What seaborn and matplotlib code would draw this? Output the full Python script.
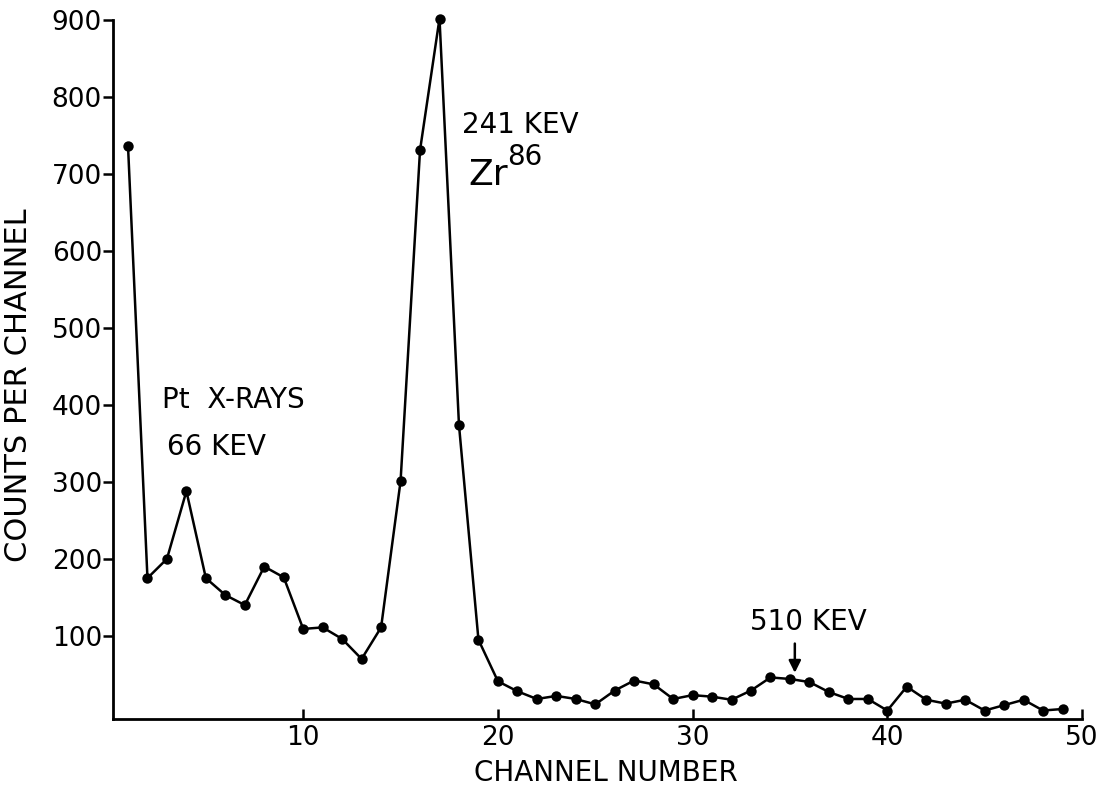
import matplotlib
matplotlib.use("Agg")
import matplotlib.pyplot as plt
import seaborn as sns
import pandas as pd

# counts per channel
channel = list(range(1, 50))
counts = [737, 175, 200, 288, 175, 153, 140, 190, 176, 109,
          111, 96, 70, 111, 301, 731, 902, 374, 95, 41,
          28, 18, 22, 18, 11, 29, 42, 37, 18, 23,
          21, 17, 29, 46, 44, 40, 27, 18, 18, 3,
          34, 17, 12, 17, 3, 10, 17, 3, 5]
x_ticks = [10, 20, 30, 40, 50]
y_ticks = [100, 200, 300, 400, 500, 600, 700, 800, 900]

df = pd.DataFrame({"channel": channel, "counts": counts})

sns.set_theme(style="ticks")
plt.rcParams["font.family"] = ["DejaVu Sans"]
plt.rcParams["text.color"] = "black"
plt.rcParams["axes.labelcolor"] = "black"

fig = plt.figure(figsize=(11.08, 7.89), dpi=100)
ax = fig.add_axes([113 / 1108, 70 / 789, 969 / 1108, 710.5 / 789])

sns.lineplot(data=df, x="channel", y="counts", color="black", linewidth=1.8,
             marker="o", markersize=7.5, markeredgewidth=0, ax=ax)

ax.set_xlim(0.23, 50)
ax.set_ylim(-8, 915)
ax.set_xticks(x_ticks)
ax.set_yticks(y_ticks)
ax.set_xticklabels([str(t) for t in x_ticks], fontsize=19)
ax.set_yticklabels([str(t) for t in y_ticks], fontsize=19)
ax.tick_params(axis="x", direction="in", length=7, width=1.8, pad=4, colors="black")
ax.tick_params(axis="y", direction="out", length=7, width=1.8, pad=1, colors="black")

for side in ["top", "right"]:
    ax.spines[side].set_visible(False)
for side in ["left", "bottom"]:
    ax.spines[side].set_linewidth(2)
    ax.spines[side].set_color("black")
ax.spines["left"].set_bounds(-8, 900)

ax.set_xlabel("CHANNEL NUMBER", fontsize=20, color="black")
ax.set_ylabel("COUNTS PER CHANNEL", fontsize=22, color="black")
ax.xaxis.set_label_coords(0.509, -0.056)
ax.yaxis.set_label_coords(-0.0826, 0.47)

# peak labels
ax.text(2.75, 406, "Pt  X-RAYS", fontsize=20, va="center", ha="left", color="black")
ax.text(3.0, 345, "66 KEV", fontsize=20, va="center", ha="left", color="black")
ax.text(18.17, 764, "241 KEV", fontsize=20, va="center", ha="left", color="black")
ax.text(18.48, 686, "Zr", fontsize=26, va="baseline", ha="left", color="black")
ax.text(20.49, 712, "86", fontsize=20, va="baseline", ha="left", color="black")
ax.text(32.93, 118, "510 KEV", fontsize=20, va="center", ha="left", color="black")
ax.annotate("", xy=(35.25, 52), xytext=(35.25, 90),
            arrowprops=dict(arrowstyle="-|>", color="black", lw=1.8,
                            mutation_scale=18, shrinkA=0, shrinkB=0))

fig.savefig("out.png", dpi=100)
